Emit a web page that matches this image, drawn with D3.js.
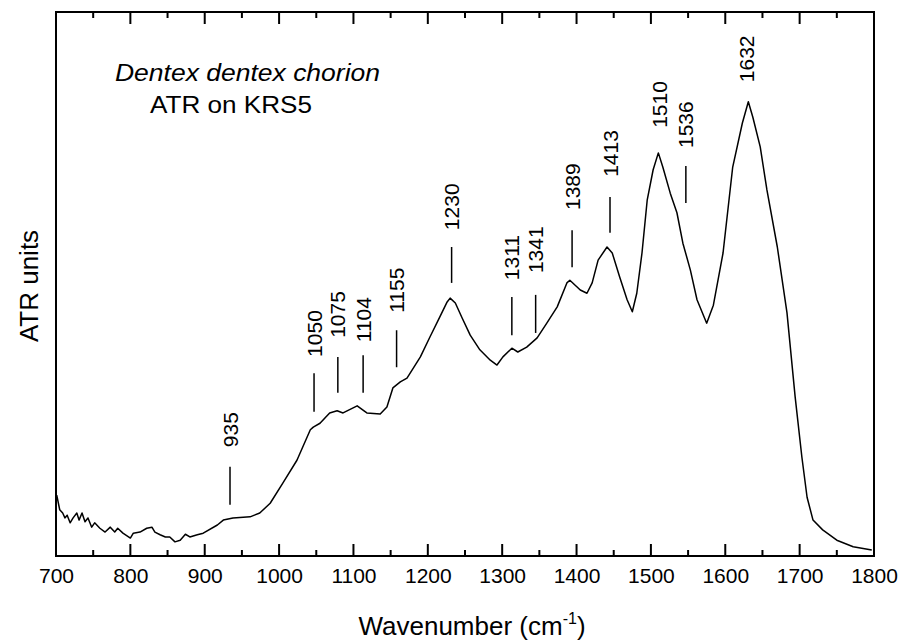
<!DOCTYPE html>
<html>
<head>
<meta charset="utf-8">
<script src="https://cdn.jsdelivr.net/npm/d3@7"></script>
<style>
  body { margin: 0; background: #fff; }
  svg { display: block; font-family: "Liberation Sans", Arial, sans-serif; }
</style>
</head>
<body>
<div id="chart"></div>
<script>
// spectrum (wavenumber, ATR units)
const wavenumbers = [701, 705, 709, 712, 715, 719, 723, 728, 731, 735, 739, 743, 748, 752, 759, 766, 773, 779, 783, 790,
  800, 804, 813, 822, 829, 833, 840, 847, 853, 860, 867, 874, 880, 890, 898,
  917, 925, 938, 961, 974, 988, 1005, 1024, 1042, 1046, 1055, 1068, 1078, 1086, 1105, 1118, 1136, 1145, 1153, 1163,
  1172, 1179, 1190, 1203, 1216, 1226, 1230, 1237, 1246, 1257, 1270, 1284, 1293, 1301, 1313, 1321, 1333, 1347, 1360,
  1374, 1387, 1391, 1405, 1414, 1421, 1429, 1441, 1448, 1458, 1468, 1475, 1481, 1488, 1495, 1503, 1510, 1516, 1526,
  1535, 1543, 1553, 1562, 1575, 1584, 1597, 1610, 1623, 1631, 1637, 1647, 1656, 1670, 1683, 1694, 1703, 1710, 1718,
  1731, 1750, 1772, 1797];
const atr = [11.2, 8.5, 7.9, 7.0, 7.5, 6.1, 7.0, 7.9, 6.6, 7.9, 6.3, 7.0, 5.3, 6.1, 5.1, 4.4, 5.3, 4.4, 5.1, 4.2,
  3.3, 4.2, 4.4, 5.1, 5.3, 4.4, 3.9, 3.5, 3.5, 2.6, 2.9, 4.0, 3.5, 3.9, 4.2,
  5.7, 6.6, 7.0, 7.2, 7.9, 9.7, 13.4, 17.6, 23.2, 23.7, 24.4, 26.3, 26.7, 26.3, 27.6, 26.3, 26.1, 27.4, 30.9, 32.0,
  32.7, 34.2, 36.6, 40.3, 43.9, 46.7, 47.4, 46.5, 43.8, 40.6, 37.9, 36.0, 35.1, 36.6, 38.2, 37.5, 38.4, 40.1, 42.8,
  45.8, 50.2, 50.7, 48.9, 48.3, 50.2, 54.4, 56.8, 55.7, 51.3, 47.1, 44.9, 48.3, 55.7, 65.4, 71.0, 74.1, 71.5, 66.7,
  63.1, 57.5, 52.6, 47.1, 42.8, 46.1, 55.7, 71.5, 79.6, 83.5, 80.7, 75.2, 67.3, 56.8, 44.7, 29.2, 18.2, 10.8, 6.6,
  4.8, 2.9, 1.7, 1.1];

// band assignments: label, marker position, marker top / bottom, label start (ATR units)
const bandLabels = ["935", "1050", "1075", "1104", "1155", "1230", "1311", "1341", "1389", "1413", "1510", "1536", "1632"];
const bandX      = [934, 1047, 1079, 1113, 1158, 1232, 1313, 1345, 1394, 1445, 1512, 1547, 1629];
const markTop    = [16.4, 33.6, 36.6, 36.9, 41.5, 56.8, 47.6, 48.0, 59.9, 66.0, null, 71.7, null];
const markBottom = [9.4, 26.5, 30.0, 30.0, 34.7, 50.2, 40.6, 41.0, 53.1, 59.4, null, 64.9, null];
const labelBase  = [20.0, 36.6, 40.1, 39.3, 44.7, 59.9, 50.7, 52.0, 63.6, 69.7, 78.7, 75.0, 87.1];

const majorTicks = d3.range(700, 1801, 100);
const minorTicks = d3.range(750, 1800, 100);

const width = 901, height = 642;
const margin = {top: 12, right: 27, bottom: 86, left: 56};

const svg = d3.select("#chart").append("svg")
    .attr("width", width)
    .attr("height", height);

const x = d3.scaleLinear().domain([700, 1800]).range([margin.left, width - margin.right]);
const y = d3.scaleLinear().domain([0, 100]).range([height - margin.bottom, margin.top]);

// bottom axis labels
svg.append("g")
    .attr("transform", `translate(0,${height - margin.bottom})`)
    .call(d3.axisBottom(x).tickValues(majorTicks).tickFormat(d3.format("d"))
        .tickSize(0).tickPadding(12))
    .call(g => g.select(".domain").remove())
    .call(g => g.selectAll("text").attr("font-size", 21).attr("fill", "#000").attr("font-family", null));

// inward ticks on bottom and top edges
const tickSpecs = majorTicks.map(v => ({v, len: 12})).concat(minorTicks.map(v => ({v, len: 6})));
const ticks = svg.append("g").attr("stroke", "#000").attr("stroke-width", 2);
ticks.selectAll(".bt")
    .data(tickSpecs)
    .join("line")
    .attr("class", "bt")
    .attr("x1", d => x(d.v)).attr("x2", d => x(d.v))
    .attr("y1", y(0)).attr("y2", d => y(0) - d.len);
ticks.selectAll(".tt")
    .data(tickSpecs)
    .join("line")
    .attr("class", "tt")
    .attr("x1", d => x(d.v)).attr("x2", d => x(d.v))
    .attr("y1", y(100)).attr("y2", d => y(100) + d.len);

// frame
svg.append("rect")
    .attr("x", x(700))
    .attr("y", y(100))
    .attr("width", x(1800) - x(700))
    .attr("height", y(0) - y(100))
    .attr("fill", "none")
    .attr("stroke", "#000")
    .attr("stroke-width", 2);

// spectrum
const line = d3.line()
    .x(i => x(wavenumbers[i]))
    .y(i => y(atr[i]));

svg.append("path")
    .attr("fill", "none")
    .attr("stroke", "#000")
    .attr("stroke-width", 1.5)
    .attr("stroke-linejoin", "round")
    .attr("d", line(d3.range(wavenumbers.length)));

// band markers
const bands = d3.range(bandLabels.length);
svg.append("g")
    .selectAll("line")
    .data(bands.filter(i => markTop[i] !== null))
    .join("line")
    .attr("x1", i => x(bandX[i]))
    .attr("x2", i => x(bandX[i]))
    .attr("y1", i => y(markTop[i]))
    .attr("y2", i => y(markBottom[i]))
    .attr("stroke", "#000")
    .attr("stroke-width", 1.5);

svg.append("g")
    .selectAll("text")
    .data(bands)
    .join("text")
    .attr("transform", i => `translate(${x(bandX[i]) + 7.5},${y(labelBase[i])}) rotate(-90)`)
    .attr("font-size", 21)
    .text(i => bandLabels[i]);

// title
svg.append("text")
    .attr("x", 115)
    .attr("y", 81)
    .attr("font-size", 23)
    .attr("font-style", "italic")
    .attr("textLength", 265)
    .attr("lengthAdjust", "spacingAndGlyphs")
    .text("Dentex dentex chorion");
svg.append("text")
    .attr("x", 150)
    .attr("y", 113)
    .attr("font-size", 23)
    .attr("textLength", 162)
    .attr("lengthAdjust", "spacingAndGlyphs")
    .text("ATR on KRS5");

// axis titles
const xTitle = svg.append("text")
    .attr("x", 472)
    .attr("y", 635)
    .attr("text-anchor", "middle")
    .attr("font-size", 26);
xTitle.append("tspan").text("Wavenumber (cm");
xTitle.append("tspan").attr("font-size", 16).attr("dy", -11).text("-1");
xTitle.append("tspan").attr("dy", 11).text(")");

svg.append("text")
    .attr("transform", "translate(38,286) rotate(-90)")
    .attr("text-anchor", "middle")
    .attr("font-size", 26)
    .text("ATR units");
</script>
</body>
</html>
